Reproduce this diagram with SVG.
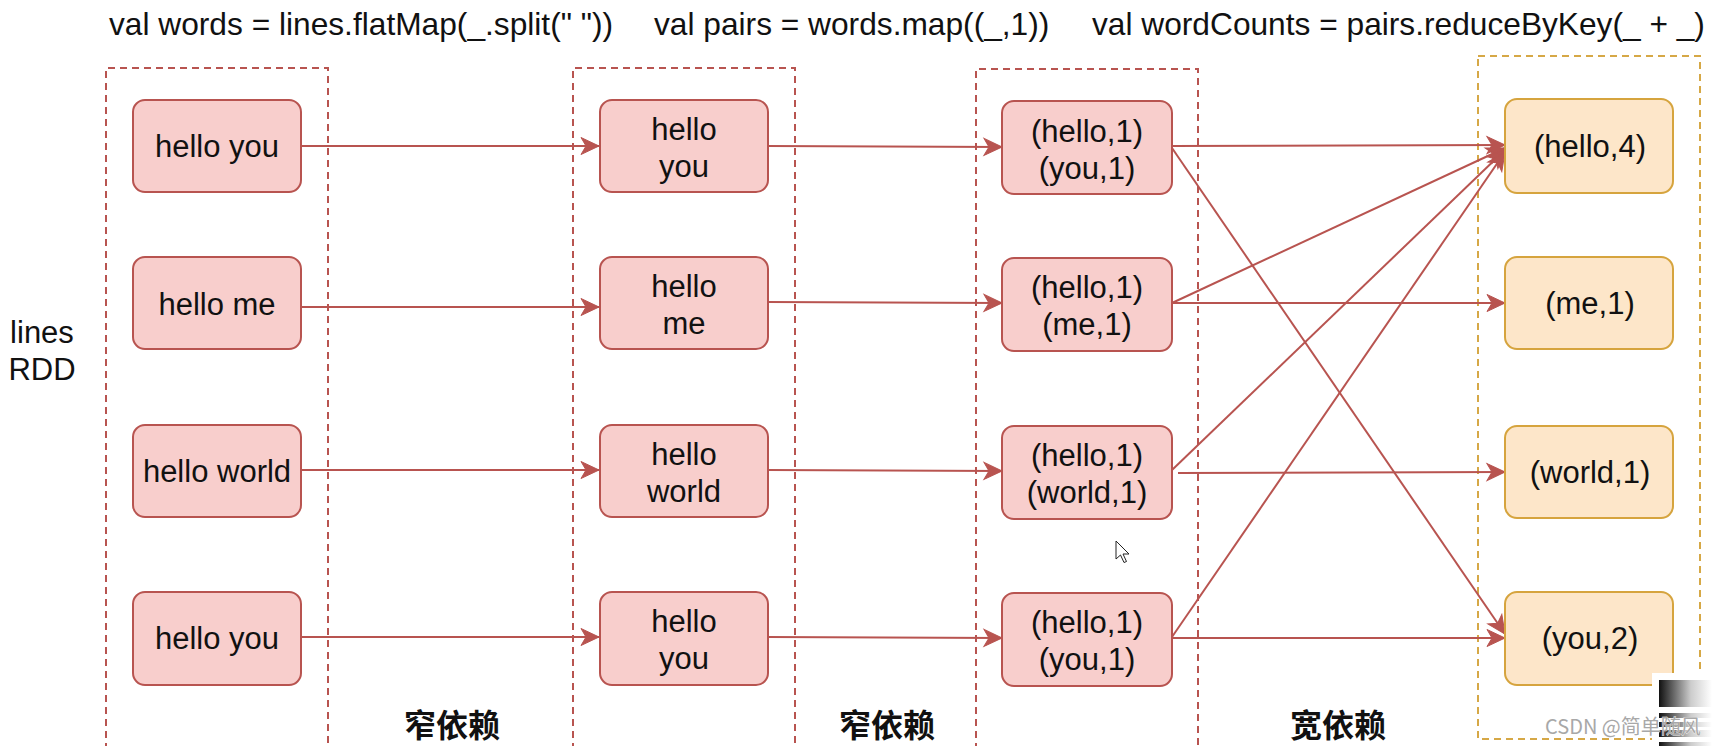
<svg xmlns="http://www.w3.org/2000/svg" width="1712" height="746" viewBox="0 0 1712 746">
<defs>
<style>
.t{font-family:"Liberation Sans",Arial,sans-serif;font-size:31px;fill:#111;}
.h{font-size:31.7px;}
.c{text-anchor:middle;}
.b{font-family:"Noto Sans CJK SC","Noto Sans CJK JP",sans-serif;font-size:32px;font-weight:bold;fill:#111;text-anchor:middle;}
.n{fill:#f8cecc;stroke:#b85450;stroke-width:2;}
.y{fill:#fde6c9;stroke:#d6a43e;stroke-width:2;}
.dr{fill:none;stroke:#b85450;stroke-width:2;stroke-dasharray:7 5;}
.dy{fill:none;stroke:#d6a846;stroke-width:2;stroke-dasharray:7 5;}
.e{stroke:#b85450;stroke-width:2;fill:none;marker-end:url(#ah);}
</style>
<marker id="ah" markerUnits="userSpaceOnUse" viewBox="-20 -10 22 20" markerWidth="22" markerHeight="20" refX="0" refY="0" orient="auto">
<path d="M0,0 L-18,-8.5 L-13,0 L-18,8.5 Z" fill="#b85450" stroke="#b85450" stroke-width="1"/>
</marker>
<linearGradient id="gg" x1="0" y1="0" x2="1" y2="0">
<stop offset="0" stop-color="#111"/>
<stop offset="0.6" stop-color="#ccc"/>
<stop offset="1" stop-color="#fff"/>
</linearGradient>
</defs>
<rect width="1712" height="746" fill="#fff"/>

<g id="titles">
<text class="t h" x="109" y="35">val words = lines.flatMap(_.split(" "))</text>
<text class="t h" x="654" y="35">val pairs = words.map((_,1))</text>
<text class="t h" x="1092" y="35">val wordCounts = pairs.reduceByKey(_ + _)</text>
</g>

<g id="lines-label">
<text class="t c" x="42" y="343">lines</text>
<text class="t c" x="42" y="380">RDD</text>
</g>

<g id="stage-boxes">
<path class="dr" d="M106,750 L106,68 L328,68 L328,750"/>
<path class="dr" d="M573,750 L573,68 L795,68 L795,750"/>
<path class="dr" d="M976,750 L976,69 L1198,69 L1198,750"/>
<rect id="result-box" class="dy" x="1478" y="56" width="222" height="683"/>
</g>

<g id="connectors">
<line class="e" x1="301" y1="146" x2="599" y2="146"/>
<line class="e" x1="301" y1="307" x2="599" y2="307"/>
<line class="e" x1="301" y1="470" x2="599" y2="470"/>
<line class="e" x1="301" y1="637" x2="599" y2="637"/>
<line class="e" x1="768" y1="146" x2="1002" y2="147"/>
<line class="e" x1="768" y1="302" x2="1002" y2="303"/>
<line class="e" x1="768" y1="470" x2="1002" y2="471"/>
<line class="e" x1="768" y1="637" x2="1002" y2="638"/>
<line class="e" x1="1172" y1="146" x2="1505" y2="145"/>
<line class="e" x1="1172" y1="148" x2="1505" y2="634"/>
<line class="e" x1="1172" y1="303" x2="1505" y2="148"/>
<line class="e" x1="1172" y1="303" x2="1505" y2="303"/>
<line class="e" x1="1172" y1="470" x2="1505" y2="150"/>
<line class="e" x1="1178" y1="473" x2="1505" y2="472"/>
<line class="e" x1="1172" y1="637" x2="1505" y2="152"/>
<line class="e" x1="1172" y1="638" x2="1505" y2="638"/>
</g>

<g id="l1"><rect class="n" x="133" y="100" width="168" height="92" rx="12"/><text class="t c" x="217" y="157">hello you</text></g>
<g id="l2"><rect class="n" x="133" y="257" width="168" height="92" rx="12"/><text class="t c" x="217" y="315">hello me</text></g>
<g id="l3"><rect class="n" x="133" y="425" width="168" height="92" rx="12"/><text class="t c" x="217" y="482">hello world</text></g>
<g id="l4"><rect class="n" x="133" y="592" width="168" height="93" rx="12"/><text class="t c" x="217" y="649">hello you</text></g>

<g id="w1"><rect class="n" x="600" y="100" width="168" height="92" rx="12"/><text class="t c" x="684" y="140">hello</text><text class="t c" x="684" y="177">you</text></g>
<g id="w2"><rect class="n" x="600" y="257" width="168" height="92" rx="12"/><text class="t c" x="684" y="297">hello</text><text class="t c" x="684" y="334">me</text></g>
<g id="w3"><rect class="n" x="600" y="425" width="168" height="92" rx="12"/><text class="t c" x="684" y="465">hello</text><text class="t c" x="684" y="502">world</text></g>
<g id="w4"><rect class="n" x="600" y="592" width="168" height="93" rx="12"/><text class="t c" x="684" y="632">hello</text><text class="t c" x="684" y="669">you</text></g>

<g id="p1"><rect class="n" x="1002" y="101" width="170" height="93" rx="12"/><text class="t c" x="1087" y="142">(hello,1)</text><text class="t c" x="1087" y="179">(you,1)</text></g>
<g id="p2"><rect class="n" x="1002" y="258" width="170" height="93" rx="12"/><text class="t c" x="1087" y="298">(hello,1)</text><text class="t c" x="1087" y="335">(me,1)</text></g>
<g id="p3"><rect class="n" x="1002" y="426" width="170" height="93" rx="12"/><text class="t c" x="1087" y="466">(hello,1)</text><text class="t c" x="1087" y="503">(world,1)</text></g>
<g id="p4"><rect class="n" x="1002" y="593" width="170" height="93" rx="12"/><text class="t c" x="1087" y="633">(hello,1)</text><text class="t c" x="1087" y="670">(you,1)</text></g>

<g id="r1"><rect class="y" x="1505" y="99" width="168" height="94" rx="12"/><text class="t c" x="1590" y="157">(hello,4)</text></g>
<g id="r2"><rect class="y" x="1505" y="257" width="168" height="92" rx="12"/><text class="t c" x="1590" y="314">(me,1)</text></g>
<g id="r3"><rect class="y" x="1505" y="426" width="168" height="92" rx="12"/><text class="t c" x="1590" y="483">(world,1)</text></g>
<g id="r4"><rect class="y" x="1505" y="592" width="168" height="93" rx="12"/><text class="t c" x="1590" y="649">(you,2)</text></g>

<g id="dep-labels">
<text class="b" x="452" y="737">窄依赖</text>
<text class="b" x="887" y="737">窄依赖</text>
<text class="b" x="1338" y="737">宽依赖</text>
</g>

<g id="cursor">
<path d="M1116,541 L1116,559 L1120.5,555 L1124,562.5 L1126.5,561.5 L1123,554 L1129,554 Z" fill="#fff" stroke="#222" stroke-width="1"/>
</g>

<g id="artifact">
<rect x="1652" y="673" width="60" height="73" fill="#fff"/>
<rect x="1659" y="680" width="53" height="27" fill="url(#gg)"/>
<rect x="1659" y="713" width="53" height="5" fill="url(#gg)"/>
<rect x="1659" y="722" width="53" height="5" fill="url(#gg)"/>
<rect x="1659" y="730" width="53" height="7" fill="url(#gg)"/>
<rect x="1659" y="742" width="53" height="4" fill="url(#gg)"/>
</g>

<g id="watermark">
<text x="1545" y="734" style="font-family:'Noto Sans CJK SC',sans-serif;font-size:20px;fill:#a8a8a8;stroke:#ffffff;stroke-width:0.6;paint-order:stroke;">CSDN @简单随风</text>
</g>
</svg>
